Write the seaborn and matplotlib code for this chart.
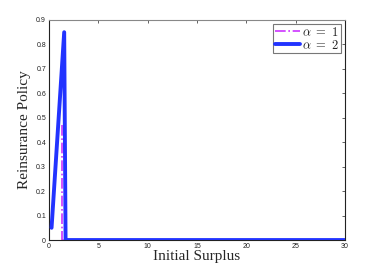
import matplotlib
matplotlib.use("Agg")
import matplotlib.pyplot as plt
import seaborn as sns
import pandas as pd

# data
surplus_a1 = [1.30, 1.36, 1.36, 30.0]
policy_a1 = [0.47, 0.47, 0.0, 0.0]
surplus_a2 = [0.27, 1.55, 1.69, 30.0]
policy_a2 = [0.05, 0.85, 0.0, 0.0]
x_ticks = [0, 5, 10, 15, 20, 25, 30]
y_ticks = [0, 0.1, 0.2, 0.3, 0.4, 0.5, 0.6, 0.7, 0.8, 0.9]

sns.set_style("white")
plt.rcParams["mathtext.fontset"] = "cm"

fig = plt.figure(figsize=(3.82, 2.70), dpi=100)
ax = fig.add_axes([0.128, 0.111, 0.775, 0.815])

df1 = pd.DataFrame({"x": surplus_a1, "y": policy_a1})
df2 = pd.DataFrame({"x": surplus_a2, "y": policy_a2})
sns.lineplot(data=df1, x="x", y="y", ax=ax, color="#cc33ff", linestyle="-.",
             linewidth=1.2, sort=False, estimator=None, label=r"$\alpha\ =\ 1$", zorder=2)
sns.lineplot(data=df2, x="x", y="y", ax=ax, color="#2233ff", linestyle="-",
             linewidth=2.8, sort=False, estimator=None, label=r"$\alpha\ =\ 2$", zorder=3)

ax.set_xlim(0, 30)
ax.set_ylim(0, 0.9)
ax.set_xticks(x_ticks)
ax.set_yticks(y_ticks)
ax.set_xticklabels([str(t) for t in x_ticks])
ax.set_yticklabels(["0"] + [f"{t:.1f}" for t in y_ticks[1:]])
ax.tick_params(direction="in", length=2.5, width=0.5, labelsize=5,
               top=True, right=True, pad=2, colors="#222222")
for lbl in ax.get_xticklabels() + ax.get_yticklabels():
    lbl.set_family("Liberation Sans")
for s in ax.spines.values():
    s.set_linewidth(0.8)
    s.set_color("#222222")
ax.spines["top"].set_color("#888888")

ax.set_xlabel("Initial Surplus", family="Liberation Serif", fontsize=11, labelpad=0)
ax.set_ylabel("Reinsurance Policy", family="Liberation Serif", fontsize=11, labelpad=4)

leg = ax.legend(loc="upper right", fontsize=9, frameon=True, fancybox=False,
                borderpad=0.15, handlelength=2.0, handletextpad=0.2,
                labelspacing=0.0, borderaxespad=0.3)
leg.get_frame().set_edgecolor("#555555")
leg.get_frame().set_linewidth(0.8)

fig.savefig("out.png", dpi=100)
